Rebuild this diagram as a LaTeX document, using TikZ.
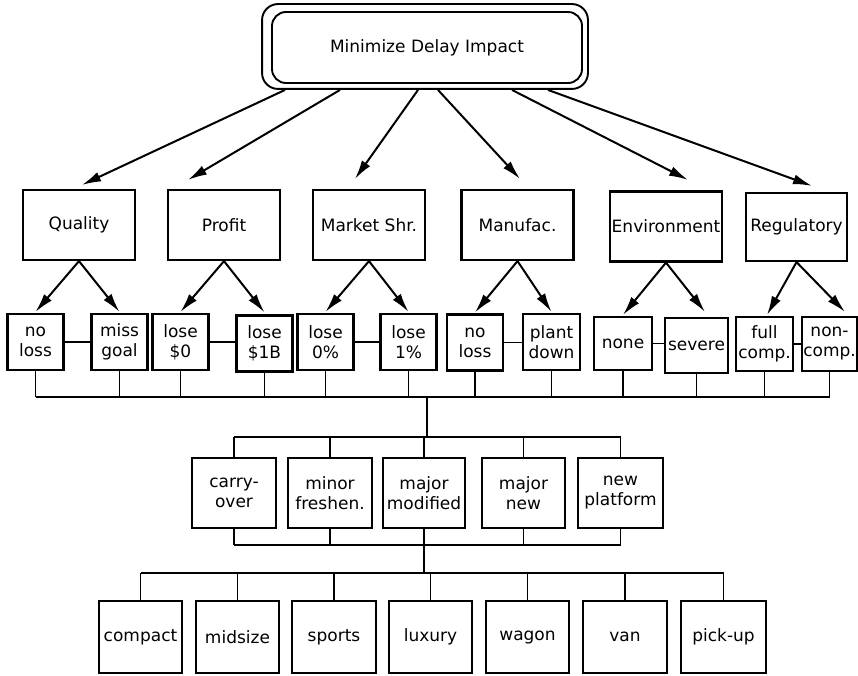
\documentclass[tikz,border=0pt]{standalone}
\usepackage{fontspec}
\setmainfont{DejaVu Sans}
\usetikzlibrary{arrows.meta}
\begin{document}
\begin{tikzpicture}[x=1pt,y=-1pt,
  every node/.style={font=\fontsize{17}{20}\selectfont, align=center, inner sep=0pt},
  box/.style={draw, line width=2.2pt},
  objbox/.style={box, minimum width=112pt, minimum height=70pt},
  lvlbox/.style={box, minimum width=56pt, minimum height=56pt},
  tierbox/.style={box, minimum width=84pt, minimum height=70pt},
  segbox/.style={box, minimum width=83pt, minimum height=72pt},
  link/.style={line width=1.8pt},
  arr/.style={line width=2pt, -{Latex[length=19pt,width=10pt]}},
]
\useasboundingbox (0,0) rectangle (858,676);

% goal
\node[draw, line width=1.9pt, rounded corners=14pt, minimum width=310pt, minimum height=71pt] (goal) at (427,47.5) {Minimize Delay Impact};
\draw[line width=1.9pt, rounded corners=16pt] ([xshift=-9pt,yshift=7pt]goal.north west) rectangle ([xshift=5pt,yshift=-5pt]goal.south east);

% objectives
\node[objbox] (qual) at (79,225) {Quality};
\node[objbox] (prof) at (224,225) {Profit};
\node[objbox] (mkt)  at (369,225) {Market Shr.};
\node[objbox] (man)  at (517.5,225) {Manufac.};
\node[objbox] (env)  at (666,226.5) {Environment};
\node[objbox, minimum width=101pt, minimum height=68pt] (reg) at (796.5,227) {Regulatory};

\draw[arr] ([xshift=-142pt,yshift=-6pt]goal.south) -- ([xshift=3pt,yshift=4pt]qual.north);
\draw[arr] ([xshift=-87pt,yshift=-6pt]goal.south) -- ([xshift=-36pt,yshift=9pt]prof.north);
\draw[arr] ([xshift=-9pt,yshift=-6pt]goal.south) -- ([xshift=-14pt,yshift=10pt]mkt.north);
\draw[arr] ([xshift=11pt,yshift=-6pt]goal.south) -- ([xshift=2.5pt,yshift=10pt]man.north);
\draw[arr] ([xshift=85pt,yshift=-6pt]goal.south) -- ([xshift=22pt,yshift=10.5pt]env.north);
\draw[arr] ([xshift=121pt,yshift=-6pt]goal.south) -- ([xshift=15.5pt,yshift=6pt]reg.north);

% levels of each objective
\node[lvlbox] (q1) at (35.5,342) {no\\loss};
\node[lvlbox] (q2) at (119.5,342) {miss\\goal};
\node[lvlbox] (p1) at (180.5,342) {lose\\\$0};
\node[lvlbox] (p2) at (264.5,343.5) {lose\\\$1B};
\node[lvlbox] (m1) at (325.5,342) {lose\\0\%};
\node[lvlbox] (m2) at (408.5,342) {lose\\1\%};
\node[lvlbox] (f1) at (475,342.5) {no\\loss};
\node[lvlbox, minimum width=57pt] (f2) at (551.5,342) {plant\\down};
\node[lvlbox, minimum width=58pt, minimum height=53pt] (e1) at (623,343.5) {none};
\node[lvlbox, minimum width=63pt, minimum height=55pt] (e2) at (696.5,345.5) {severe};
\node[lvlbox, minimum width=57pt, minimum height=54pt] (r1) at (764.5,344) {full\\comp.};
\node[lvlbox, minimum width=55pt, minimum height=54pt] (r2) at (829.5,344) {non-\\comp.};

\draw[arr] (qual.south) -- ([yshift=1pt]q1.north);
\draw[arr] (qual.south) -- ([yshift=1pt]q2.north);
\draw[arr] (prof.south) -- ([yshift=1pt]p1.north);
\draw[arr] (prof.south) -- ([yshift=2pt]p2.north);
\draw[arr] (mkt.south) -- ([yshift=1pt]m1.north);
\draw[arr] (mkt.south) -- ([yshift=1pt]m2.north);
\draw[arr] (man.south) -- ([yshift=1pt]f1.north);
\draw[arr] (man.south) -- ([yshift=1pt]f2.north);
\draw[arr] (env.south) -- ([yshift=1pt]e1.north);
\draw[arr] (env.south) -- ([xshift=8.5pt,yshift=5pt]e2.north);
\draw[arr] (reg.south) -- ([xshift=2.5pt,yshift=1pt]r1.north);
\draw[arr] (reg.south) -- ([xshift=15.5pt,yshift=4pt]r2.north);

\foreach \a/\b in {q1/q2,p1/p2,m1/m2,f1/f2,e1/e2,r1/r2}
  \draw[link] (\a.east) -- (\a.east -| \b.west);

% first bus
\coordinate (hub1) at (427,397);
\coordinate (hub2) at (427,437);
\foreach \n in {q1,q2,p1,p2,m1,m2,f1,f2,e1,e2,r1,r2}
  \draw[link] (\n.south) -- (\n.south |- hub1);
\draw[link] (q1.south |- hub1) -- (r2.south |- hub1);
\draw[link] (hub1) -- (hub2);

% program tiers
\node[tierbox] (t1) at (234,493) {carry-\\over};
\node[tierbox] (t2) at (330,493) {minor\\freshen.};
\node[tierbox, minimum width=82pt] (t3) at (424,493) {major\\modified};
\node[tierbox, minimum width=83pt] (t4) at (523.5,493) {major\\new};
\node[tierbox, minimum width=85pt] (t5) at (620.5,493) {new\\platform};

\foreach \n in {t1,t2,t3,t4,t5}
  \draw[link] (\n.north) -- (\n.north |- hub2);
\draw[link] (t1.north |- hub2) -- (t5.north |- hub2);

% second bus
\coordinate (hub3) at (424,545);
\coordinate (hub4) at (424,573);
\foreach \n in {t1,t2,t3,t4,t5}
  \draw[link] (\n.south) -- (\n.south |- hub3);
\draw[link] (t1.south |- hub3) -- (t5.south |- hub3);
\draw[link] (hub3) -- (hub4);

% vehicle segments
\node[segbox] (s1) at (140.5,637) {compact};
\node[segbox] (s2) at (237.5,637) {midsize};
\node[segbox, minimum width=84pt] (s3) at (334,637) {sports};
\node[segbox] (s4) at (430.5,637) {luxury};
\node[segbox] (s5) at (527.5,637) {wagon};
\node[segbox, minimum width=84pt] (s6) at (625,637) {van};
\node[segbox, minimum width=85pt] (s7) at (723.5,637) {pick-up};

\foreach \n in {s1,s2,s3,s4,s5,s6,s7}
  \draw[link] (\n.north) -- (\n.north |- hub4);
\draw[link] (s1.north |- hub4) -- (s7.north |- hub4);
\end{tikzpicture}
\end{document}
